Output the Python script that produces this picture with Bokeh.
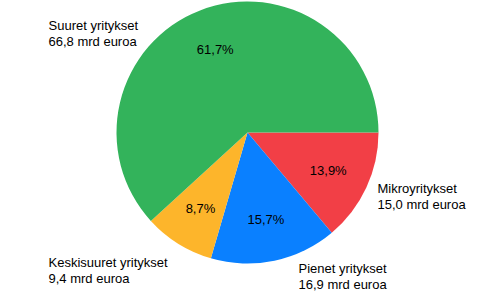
import math
from bokeh.plotting import figure
from bokeh.models import Range1d, ColumnDataSource
from bokeh.core.properties import value
from bokeh.embed import file_html
from bokeh.resources import INLINE

# Data (clockwise from 3 o'clock)
categories = ["Mikroyritykset", "Pienet yritykset", "Keskisuuret yritykset", "Suuret yritykset"]
values_mrd = [15.0, 16.9, 9.4, 66.8]
value_labels = ["15,0 mrd euroa", "16,9 mrd euroa", "9,4 mrd euroa", "66,8 mrd euroa"]
pct_labels = ["13,9%", "15,7%", "8,7%", "61,7%"]
colors = ["#F23F46", "#0A80FF", "#FDB52B", "#33B35B"]

# Layout (pixels, y measured from top)
W, H = 493, 292
CX, CY, R = 247, 132, 131
label_pos = [(377, 180), (298, 260), (48, 254), (48, 17)]  # top-left of outer labels

total = sum(values_mrd)
starts, ends, mids = [], [], []
acc = 0.0
for v in values_mrd:
    a0 = -2 * math.pi * acc / total
    acc += v
    a1 = -2 * math.pi * acc / total
    starts.append(a0)
    ends.append(a1)
    mids.append((a0 + a1) / 2)

p = figure(width=W, height=H, output_backend="svg", toolbar_location=None,
           x_range=Range1d(0, W), y_range=Range1d(0, H), min_border=0)
p.axis.visible = False
p.grid.visible = False
p.outline_line_color = None
p.background_fill_color = "white"
p.border_fill_color = "white"

src = ColumnDataSource(dict(start=starts, end=ends, color=colors))
p.wedge(x=CX, y=H - CY, radius=R, start_angle="start", end_angle="end",
        direction="clock", fill_color="color", line_color=None, source=src)

rp = 0.68 * R
px = [CX + rp * math.cos(m) for m in mids]
py = [(H - CY) + rp * math.sin(m) for m in mids]
p.text(x=px, y=py, text=pct_labels, text_align="center", text_baseline="middle",
       text_font=value("Liberation Sans"), text_font_size="13px", text_color="black")

lx = [q[0] for q in label_pos]
ly = [H - q[1] for q in label_pos]
ltxt = [c + "\n" + v for c, v in zip(categories, value_labels)]
p.text(x=lx, y=ly, text=ltxt, text_align="left", text_baseline="top",
       text_font=value("Liberation Sans"), text_font_size="13px", text_color="black",
       text_line_height=1.1)

open("out.html", "w").write(file_html(p, INLINE))
